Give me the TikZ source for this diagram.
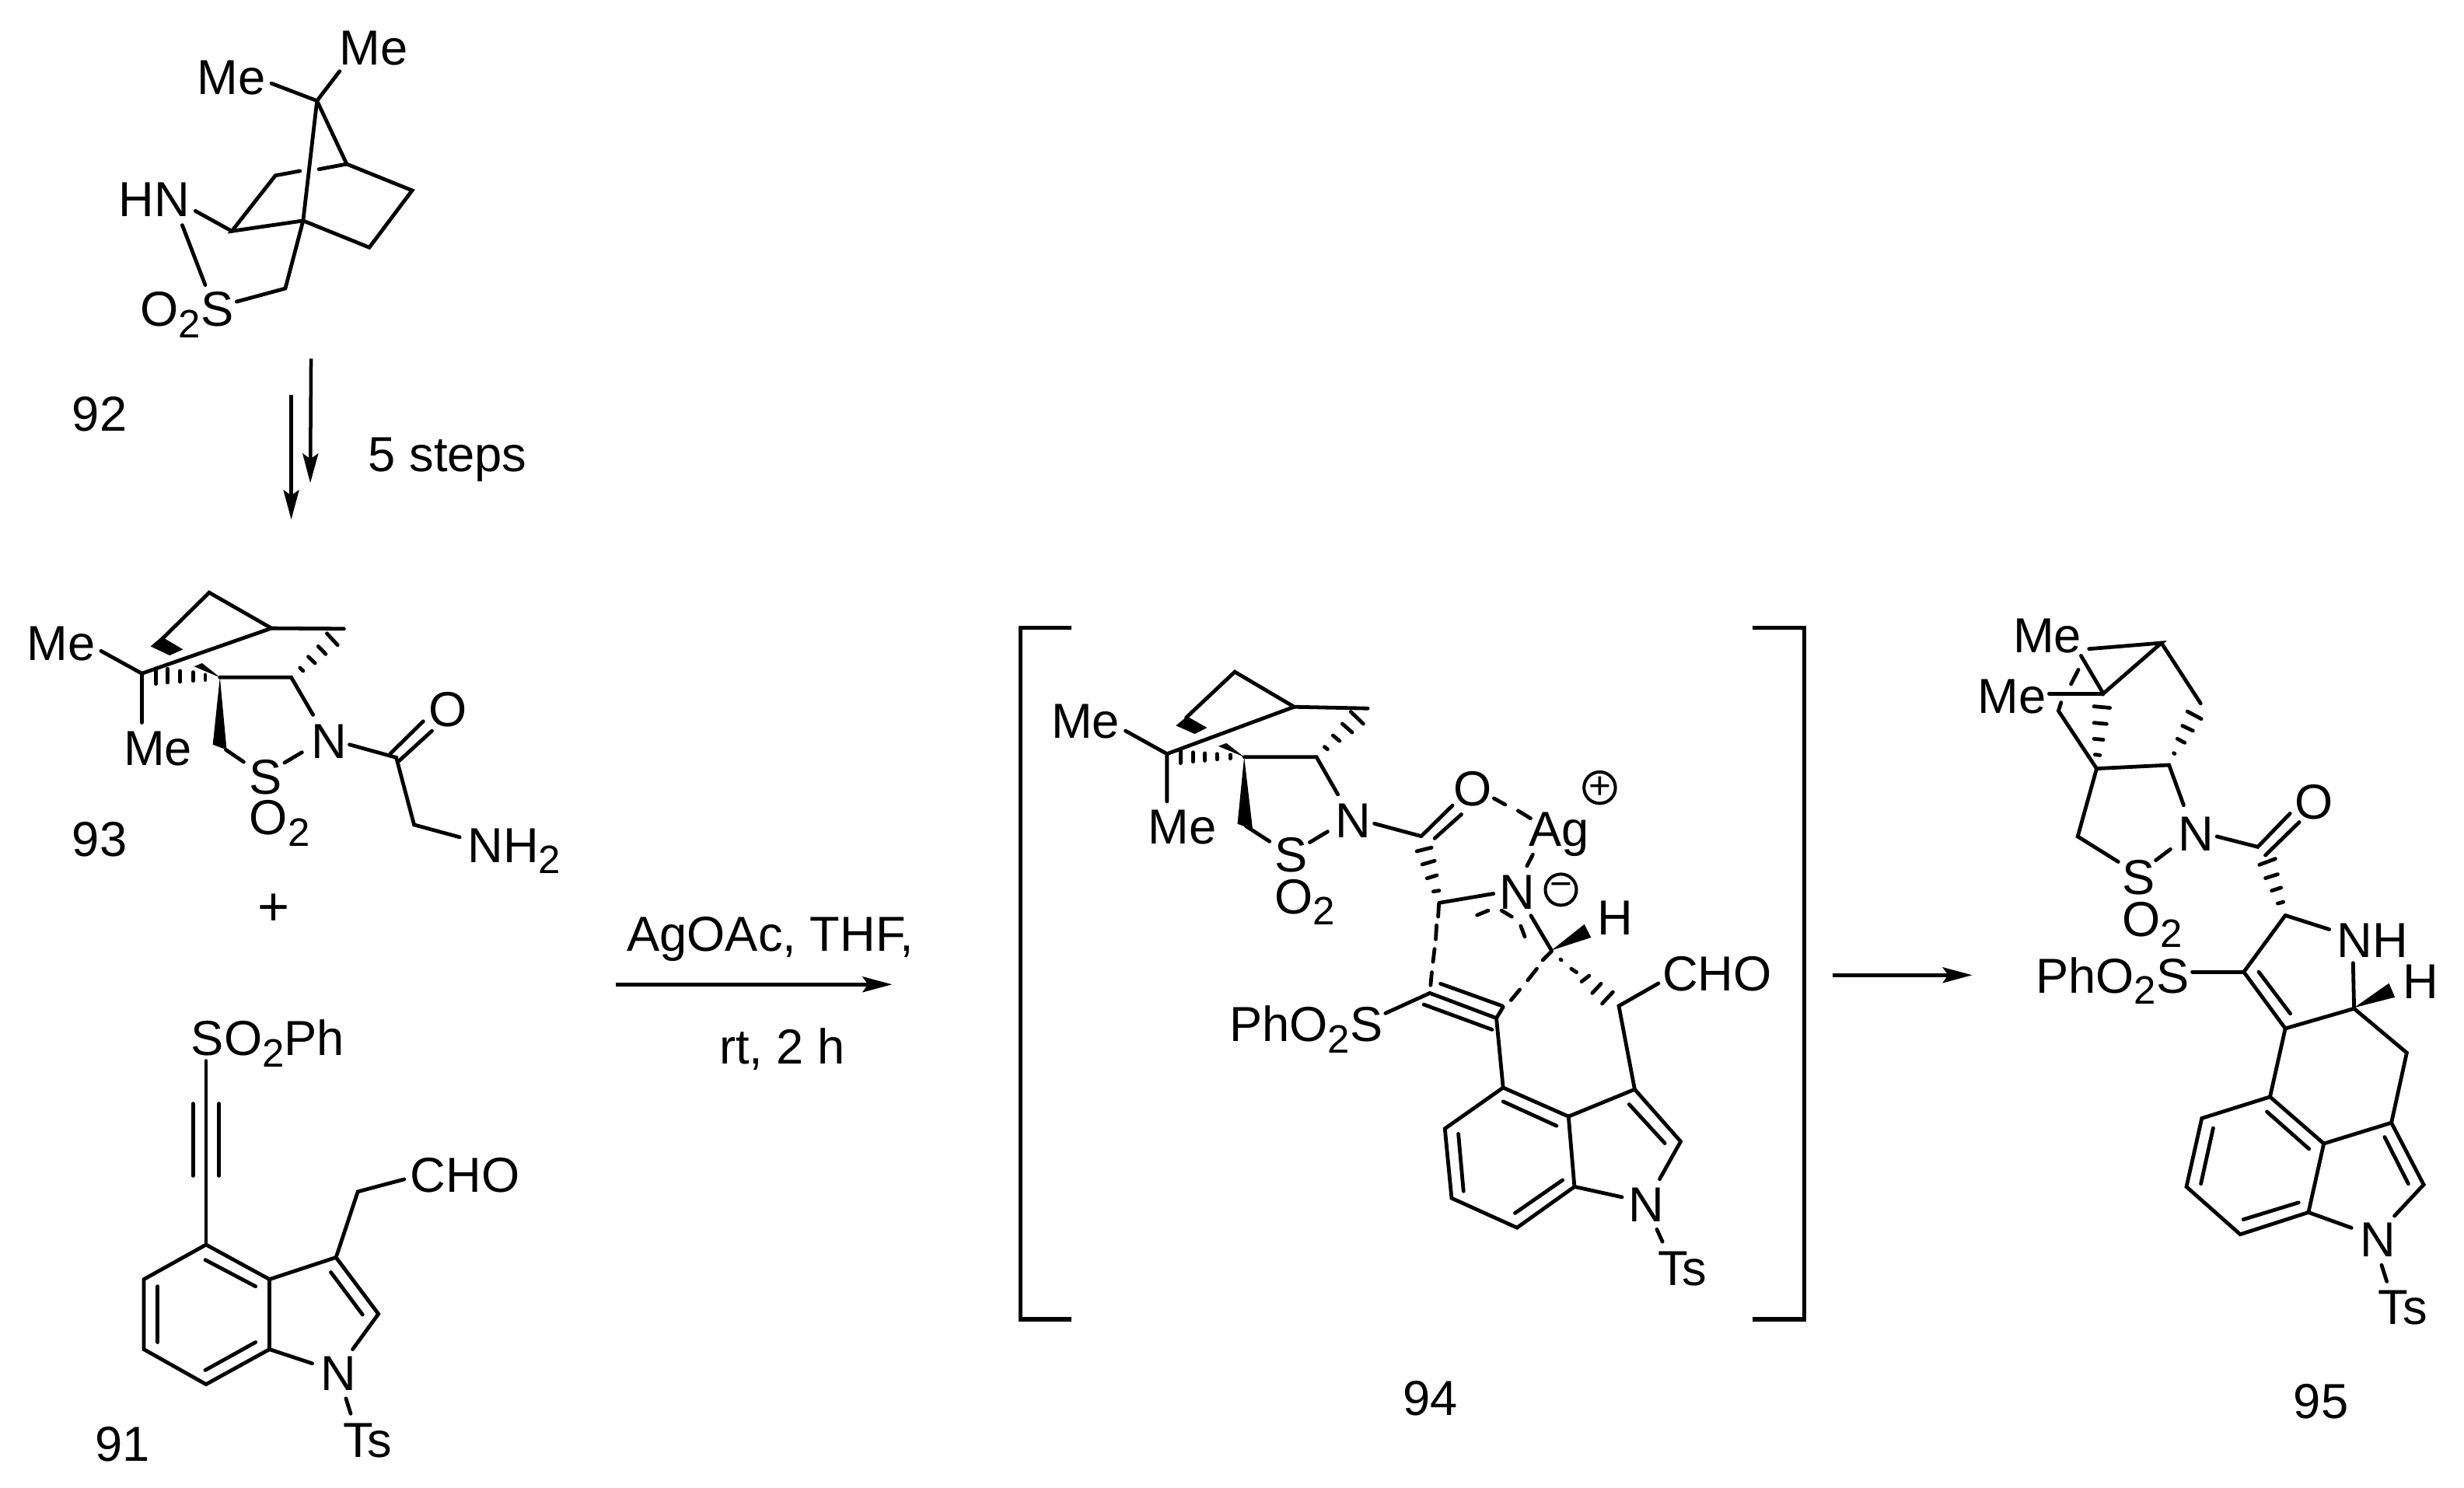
\documentclass[tikz,border=0pt]{standalone}
\usepackage{fontspec}
\setmainfont{Liberation Sans}
\usetikzlibrary{arrows.meta}
\newcommand\sbt[1]{\raisebox{-0.23em}{\fontsize{14.5}{15}\selectfont #1}}
\newcommand\pts[1]{\foreach \n/\x/\y in {#1} {\coordinate (\n) at (\x,\y);}}
\newcommand\segs[1]{\foreach \pa/\pb/\pc/\pd in {#1} {\draw[bond] (\pa,\pb)--(\pc,\pd);}}
\tikzset{
  bond/.style={line width=0.048cm,line cap=round,line join=miter,black},
  lab/.style={anchor=base west,inner sep=0pt,xshift=-0.02cm,yshift=-0.02cm,font=\fontsize{18}{20}\selectfont},
  arrowline/.style={line width=0.045cm,-{Stealth[length=0.38cm,width=0.2cm,inset=0.07cm]}},
  brk/.style={line width=0.055cm,line join=miter},
  charge/.style={draw,circle,inner sep=0pt,minimum size=0.4cm,line width=0.04cm,font=\fontsize{14}{14}\selectfont},
}
\begin{document}
\begin{tikzpicture}
\useasboundingbox (0,0) rectangle (31.69,-19.14);
\fill[white] (0,0) rectangle (31.69,-19.14);

% 92
\begin{scope}[x=0.005102cm,y=-0.004464cm]
\pts{a7/800/290,ame1/685/240,ame2/857/205,a4/875/472,a5/1040/548,a6/932/712,a1/765/635,a2/585/665,a3/695/505,ag1/757/492,ag2/805/487,ach/720/830,as/597/868,an1/493/607,an2/460/648,as2/518/820,ars/785/1032,are/783/1390,brs/735/1137,bre/735/1495}
\draw[bond] (ame1)--(a7)--(ame2);
\draw[bond] (a7)--(a4)--(a5)--(a6)--(a1)--(a2)--(a3)--(ag1);
\draw[bond] (ag2)--(a4);
\draw[bond] (a7)--(a1)--(ach)--(as);
\draw[bond] (a2)--(an1);
\draw[bond] (an2)--(as2);
\draw[arrowline] (ars)--(are);
\draw[arrowline] (brs)--(bre);
\node[lab] (ml1) at (500,268) {Me};
\node[lab] (ml2) at (860,183) {Me};
\node[lab] (hn1) at (302,618) {HN};
\node[lab] (so1) at (357,935) {O\sbt{2}S};
\node[lab] (c92) at (185,1235) {92};
\node[lab] (st5) at (932,1352) {5 steps};
\end{scope}

% 93
\begin{scope}[shift={(0cm,-7cm)},x=0.005102cm,y=-0.003333cm]
\pts{b1/358/500,bm1/255/413,bm2/358/690,b2/685/325,b3/868/327,b4/528/187,b5/412/362,bq/555/515,bc/735/515,bn1/790/660,bs1/570/795,bs2/615/842,bs3/718/845,bn2/762/805,bn3/882/775,bco/1000/825,bo1a/985/810,bo1b/1068/685,bo2a/1007/838,bo2b/1090/722,bch/1045/1085,bnh/1160/1133}
\draw[bond] (bm1)--(b1)--(bm2);
\draw[bond] (b1)--(b2)--(b3);
\draw[bond] (b2)--(b4)--(b5);
\fill (408,358)--(380,395)--(428,430)--(462,407)--cycle;
\segs{393/480/393/540,423/482/423/535,455/490/455/532,487/495/487/528,518/505/518/525,757/478/765/490,778/435/795/460,803/395/822/425,825/345/852/390}
\fill (555,515)--(510,460)--(490,473)--cycle;
\draw[bond] (bq)--(bc)--(bn1);
\fill (555,515)--(537,775)--(572,795)--cycle;
\draw[bond] (bs1)--(bs2);
\draw[bond] (bs3)--(bn2);
\draw[bond] (bn3)--(bco)--(bch)--(bnh);
\draw[bond] (bo1a)--(bo1b);
\draw[bond] (bo2a)--(bo2b);
\node[lab] (ml3) at (70,442) {Me};
\node[lab] (ml4) at (315,848) {Me};
\node[lab] (n93) at (788,822) {N};
\node[lab] (s93) at (632,960) {S};
\node[lab] (o93) at (632,1118) {O\sbt{2}};
\node[lab] (oo93) at (1085,698) {O};
\node[lab] (nh93) at (1183,1225) {NH\sbt{2}};
\node[lab] (c93) at (185,1200) {93};
\node[anchor=center,inner sep=0pt,font=\fontsize{20}{20}\selectfont] (plus) at (690,1413) {+};
\end{scope}

% 91
\begin{scope}[shift={(0cm,-12cm)},x=0.005102cm,y=-0.004554cm]
\pts{c1/520/362,c2/520/882,ct1/487/483,ct2/487/687,ct3/553/483,ct4/553/687,c5/363/980,c6/363/1178,c7/520/1277,c7a/680/1178,c3a/680/980,d1a/518/925,d1b/645/1000,d2a/398/1000,d2b/398/1158,d3a/518/1237,d3b/645/1158,c3/848/918,c2x/955/1078,cn1/890/1178,cn2/788/1218,d4a/835/960,d4b/915/1080,cch/903/732,cho/1020/697,cn3/873/1317,cn4/885/1360}
\draw[bond] (c1)--(c2);
\draw[bond] (ct1)--(ct2);
\draw[bond] (ct3)--(ct4);
\draw[bond] (c2)--(c5)--(c6)--(c7)--(c7a)--(c3a)--(c2);
\draw[bond] (d1a)--(d1b);
\draw[bond] (d2a)--(d2b);
\draw[bond] (d3a)--(d3b);
\draw[bond] (c3a)--(c3)--(c2x)--(cn1);
\draw[bond] (c7a)--(cn2);
\draw[bond] (d4a)--(d4b);
\draw[bond] (c3)--(cch)--(cho);
\draw[bond] (cn3)--(cn4);
\node[lab] (so2) at (485,342) {SO\sbt{2}Ph};
\node[lab] (cho1) at (1038,730) {CHO};
\node[lab] (n91) at (812,1290) {N};
\node[lab] (ts91) at (868,1480) {Ts};
\node[lab] (c91) at (243,1490) {91};
\end{scope}

% main arrow, conditions, brackets
\begin{scope}[x=0.01cm,y=-0.01cm]
\pts{ma1/792/1267,ma2/1148/1267,mb1/2358/1255,mb2/2538/1255,bl1/1379/808,bl2/1313/808,bl3/1313/1698,bl4/1379/1698,br1/2255/808,br2/2322/808,br3/2322/1698,br4/2255/1698}
\draw[arrowline] (ma1)--(ma2);
\draw[arrowline] (mb1)--(mb2);
\draw[brk] (bl1)--(bl2)--(bl3)--(bl4);
\draw[brk] (br1)--(br2)--(br3)--(br4);
\node[lab] (cond1) at (808,1222) {AgOAc, THF,};
\node[lab] (cond2) at (927,1367) {rt, 2 h};
\end{scope}

% 94 upper
\begin{scope}[shift={(12.8cm,-7.8cm)},x=0.005741cm,y=-0.003954cm]
\pts{e1/385/480,em1/292/405,em2/385/635,e2/670/327,e3/835/332,e4/537/213,e5/428/362,eq/558/490,ec/720/490,en1/768/612,es1/562/715,es2/615/765,es3/705/768,en2/745/733,en3/850/707,eco/955/748,eo1/1025/648,eo2a/985/755,eo2b/1045/677,el/995/965,en4/1117/935}
\draw[bond] (em1)--(e1)--(em2);
\draw[bond] (e1)--(e2)--(e3);
\draw[bond] (e2)--(e4)--(e5);
\fill (430,358)--(405,388)--(447,415)--(475,395)--cycle;
\segs{415/470/415/510,443/475/443/505,470/478/470/502,497/480/497/498,527/483/527/495,738/457/745/465,757/420/772/438,778/382/800/410,797/343/825/382,945/797/978/785,957/840/985/828,968/885/990/875,982/928/995/925,1118/625/1143/645,1172/665/1200/690,1205/808/1192/845,1080/1005/1105/990,1135/990/1158/1010,1178/1040/1187/1075}
\fill (558,490)--(518,445)--(500,455)--cycle;
\draw[bond] (eq)--(ec)--(en1);
\fill (558,490)--(543,708)--(577,725)--cycle;
\draw[bond] (es1)--(es2);
\draw[bond] (es3)--(en2);
\draw[bond] (en3)--(eco)--(eo1);
\draw[bond] (eo2a)--(eo2b);
\draw[bond] (el)--(en4);
\node[lab] (ml5) at (128,425) {Me};
\node[lab] (ml6) at (345,768) {Me};
\node[lab] (n94) at (765,748) {N};
\node[lab] (s94) at (628,860) {S};
\node[lab] (o94) at (628,995) {O\sbt{2}};
\node[lab] (oo94) at (1030,645) {O};
\node[lab] (ag94) at (1198,775) {Ag};
\node[lab] (nn94) at (1133,980) {N};
\node[lab] (h94) at (1352,1065) {H};
\node[charge] (cplus) at (1355,590) {+};
\node[charge] (cminus) at (1268,922) {−};
\end{scope}

% 94 lower
\begin{scope}[shift={(15cm,-11.5cm)},x=0.005102cm,y=-0.004464cm]
\pts{f1/920/62,fch/972/162,fa/665/285,fb/833/357,fb2/850/325,fc4/850/557,fs/553/343,f5/703/675,f6/720/875,f7/885/960,f7a/1030/842,f3a/1015/640,g1a/850/597,g1b/985/667,g2a/737/690,g2b/750/855,g3a/880/918,g3b/1000/823,f3/1182/562,f2/1298/712,fn1/1245/820,fn2/1150/872,g4a/1168/605,g4b/1258/717,fcc/1142/322,fcho/1242/257,fn3/1238/965,fn4/1252/1000,t1a/692/258,t1b/848/322,t2a/650/318,t2b/822/390}
\draw[bond] (f1)--(fch);
\fill (972,162)--(1055,87)--(1072,125)--cycle;
\segs{995/188/997/190,1022/215/1035/225,1067/235/1048/252,1097/258/1075/285,1127/282/1100/315,972/165/950/190,935/215/912/248,892/275/870/305,688/28/686/65,682/90/680/130,677/158/673/195,670/225/667/262}
\draw[bond] (fa)--(fb)--(fb2);
\draw[bond] (t1a)--(t1b);
\draw[bond] (t2a)--(t2b);
\draw[bond] (fb)--(fc4)--(f5)--(f6)--(f7)--(f7a)--(f3a)--(fc4);
\draw[bond] (fa)--(fs);
\draw[bond] (g1a)--(g1b);
\draw[bond] (g2a)--(g2b);
\draw[bond] (g3a)--(g3b);
\draw[bond] (f3a)--(f3)--(f2)--(fn1);
\draw[bond] (f7a)--(fn2);
\draw[bond] (g4a)--(g4b);
\draw[bond] (f3)--(fcc)--(fcho);
\draw[bond] (fn3)--(fn4);
\node[lab] (pso94) at (162,420) {PhO\sbt{2}S};
\node[lab] (cho94) at (1255,275) {CHO};
\node[lab] (nb94) at (1170,938) {N};
\node[lab] (ts94) at (1243,1122) {Ts};
\node[lab] (c94) at (600,1495) {94};
\end{scope}

% 95 upper
\begin{scope}[shift={(25cm,-7.6cm)},x=0.004266cm,y=-0.003827cm]
\pts{h1/437/195,h2/655/175,h3/480/345,h4/413/218,h5/317/345,h6/773/378,hq/460/597,hc/678/585,hn1/722/720,hu1/353/375,hu2/345/403,hm/403/825,hs1/525/910,hs2/638/905,hn2/682/868,hn3/822/825,hco/945/860,ho1/1042/748,ho2a/968/888,ho2b/1070/777,hl/1028/1090,hnh/1160/1137,ha/903/1280,hb/1028/1470,hd/1235/1403,hn4/1232/1250,hi1/948/1280,hi2/1043/1420,hso/748/1280}
\draw[bond] (h1)--(h2)--(h3)--(h4);
\draw[bond] (h3)--(h5);
\draw[bond] (h2)--(h6);
\segs{405/265/383/313,692/545/695/547,703/497/725/510,718/453/750/470,733/405/775/430,452/388/500/393,452/443/490/447,452/497/480/500,455/550/470/552,950/920/998/900,968/965/1005/952,987/1007/1015/997,1005/1050/1022/1045}
\draw[bond] (hu1)--(hu2)--(hq)--(hc)--(hn1);
\draw[bond] (hq)--(hm)--(hs1);
\draw[bond] (hs2)--(hn2);
\draw[bond] (hn3)--(hco)--(ho1);
\draw[bond] (ho2a)--(ho2b);
\draw[bond] (hl)--(hnh);
\draw[bond] (hl)--(ha)--(hb)--(hd)--(hn4);
\draw[bond] (hi1)--(hi2);
\draw[bond] (hso)--(ha);
\fill (1235,1400)--(1340,1318)--(1358,1365)--cycle;
\node[lab] (ml7) at (212,203) {Me};
\node[lab] (ml8) at (105,405) {Me};
\node[lab] (n95) at (708,868) {N};
\node[lab] (s95) at (540,1015) {S};
\node[lab] (o95) at (540,1155) {O\sbt{2}};
\node[lab] (oo95) at (1060,762) {O};
\node[lab] (nh95) at (1187,1225) {NH};
\node[lab] (h95) at (1385,1365) {H};
\node[lab] (pso95) at (280,1345) {PhO\sbt{2}S};
\end{scope}

% 95 lower
\begin{scope}[shift={(25.5cm,-12.5cm)},x=0.003948cm,y=-0.003827cm]
\pts{k4/935/420,k5/713/492,k6/663/722,k7/838/882,k7a/1060/808,k3a/1110/577,kb/1207/118,kc/1380/272,k3/1330/507,k2/1435/715,kn1/1340/820,kn2/1200/860,m1a/925/470,m1b/1062/595,m2a/750/525,m2b/710/712,m3a/848/832,m3b/1028/775,m4a/1308/555,m4b/1385/712,kn3/1298/985,kn4/1315/1040}
\draw[bond] (hb)--(k4)--(k5)--(k6)--(k7)--(k7a)--(k3a)--(k4);
\draw[bond] (hd)--(kc)--(k3)--(k3a);
\draw[bond] (k3)--(k2)--(kn1);
\draw[bond] (k7a)--(kn2);
\draw[bond] (m1a)--(m1b);
\draw[bond] (m2a)--(m2b);
\draw[bond] (m3a)--(m3b);
\draw[bond] (m4a)--(m4b);
\draw[bond] (kn3)--(kn4);
\node[lab] (nb95) at (1232,952) {N};
\node[lab] (ts95) at (1290,1180) {Ts};
\node[lab] (c95) at (1015,1495) {95};
\end{scope}
\end{tikzpicture}
\end{document}
